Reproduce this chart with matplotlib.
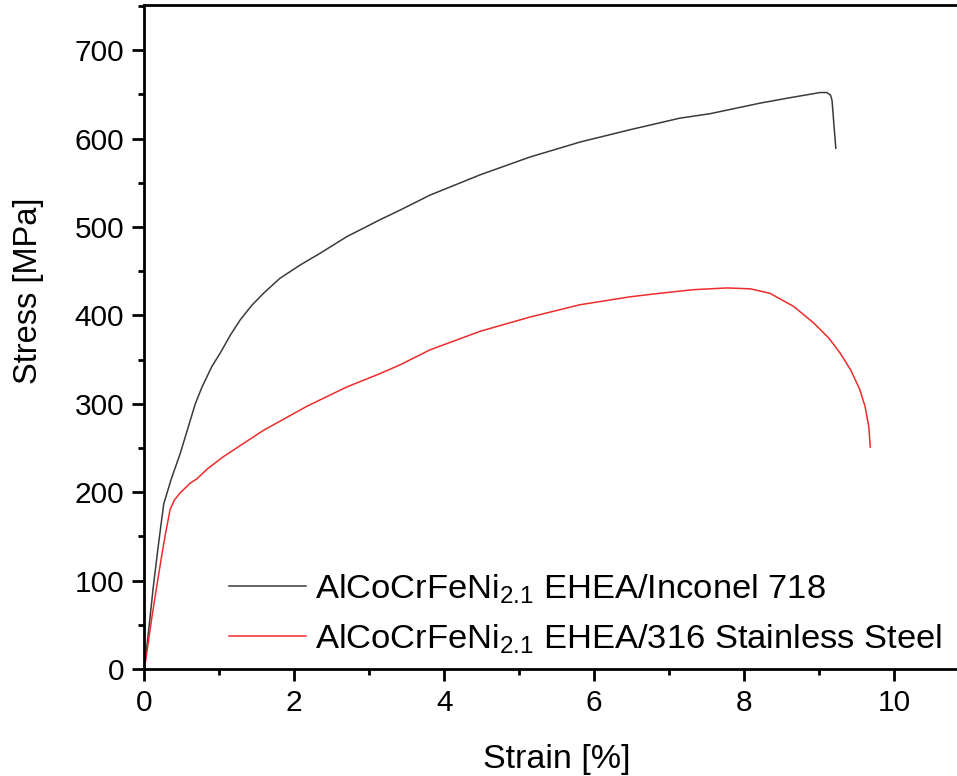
import matplotlib
matplotlib.use('Agg')
import matplotlib.pyplot as plt
from matplotlib.ticker import MultipleLocator

plt.rcParams['font.family'] = ['Liberation Sans', 'DejaVu Sans']
plt.rcParams['mathtext.fontset'] = 'custom'
plt.rcParams['mathtext.rm'] = 'Liberation Sans'
plt.rcParams['mathtext.it'] = 'Liberation Sans:italic'

# stress-strain curves
strain_inconel = [0, 0.06, 0.12, 0.18, 0.23, 0.26, 0.36, 0.48, 0.58, 0.68, 0.77,
                  0.9, 1.01, 1.15, 1.28, 1.43, 1.59, 1.81, 2.08, 2.34, 2.70, 3.14,
                  3.41, 3.81, 4.48, 5.14, 5.81, 6.48, 7.14, 7.54, 8.21, 8.6, 9.01,
                  9.10, 9.15, 9.17, 9.19, 9.22]
stress_inconel = [0, 45, 93, 135, 168, 187, 215, 244, 272, 300, 319,
                  342, 357, 378, 395, 411, 425, 442, 457, 470, 489, 508,
                  519, 536, 559, 579, 596, 610, 623, 628, 640, 646, 652,
                  652, 649, 643, 621, 589]

strain_ss316 = [0, 0.05, 0.10, 0.165, 0.22, 0.276, 0.343, 0.40, 0.476, 0.609,
                0.7, 0.85, 1.053, 1.32, 1.59, 2.165, 2.70, 3.14, 3.41, 3.81,
                4.48, 5.14, 5.81, 6.48, 6.88, 7.32, 7.77, 8.08, 8.34,
                8.66, 8.93, 9.13, 9.28, 9.42, 9.54, 9.61, 9.66, 9.68]
stress_ss316 = [0, 28, 58, 93, 122, 150, 180, 191, 199, 210,
                215, 227, 240, 255, 270, 297, 319, 334, 344, 361,
                382, 398, 412, 421, 425, 429, 431, 430, 425,
                410, 391, 374, 357, 338, 316, 297, 274, 251]

label_inconel = r'AlCoCrFeNi$_{\mathrm{2.1}}$ EHEA/Inconel 718'
label_ss316 = r'AlCoCrFeNi$_{\mathrm{2.1}}$ EHEA/316 Stainless Steel'

fig = plt.figure(figsize=(9.57, 7.76), dpi=100)
# axes runs past the right edge of the figure, as in the cropped original
ax = fig.add_axes([144.3 / 957, 107 / 776, 825 / 957, 664 / 776])

ax.plot(strain_inconel, stress_inconel, color='#3a3a3a', lw=1.1, label=label_inconel)
ax.plot(strain_ss316, stress_ss316, color='#ee2b2b', lw=1.1, label=label_ss316)

ax.set_xlim(0, 11)
ax.set_ylim(0, 751)
ax.xaxis.set_major_locator(MultipleLocator(2))
ax.xaxis.set_minor_locator(MultipleLocator(1))
ax.yaxis.set_major_locator(MultipleLocator(100))
ax.yaxis.set_minor_locator(MultipleLocator(50))

for side in ['left', 'bottom', 'top']:
    ax.spines[side].set_linewidth(2.0)
ax.spines['right'].set_visible(False)
ax.tick_params(which='major', direction='out', length=8.6, width=2.0,
               labelsize=21.5, pad=6)
ax.tick_params(which='minor', direction='out', length=4.3, width=2.0)
ax.tick_params(top=False, right=False, which='both')

ax.set_xlabel('Strain [%]', fontsize=24.5)
ax.set_ylabel('Stress [MPa]', fontsize=23.5)
ax.xaxis.set_label_coords(0.5, -0.1136)
ax.yaxis.set_label_coords(-0.1216, 0.569)

ax.legend(loc='lower left', bbox_to_anchor=(0.1027, 0.02), frameon=False,
          fontsize=24.8, handlelength=2.23, handletextpad=0.26,
          labelspacing=0.48, borderpad=0, borderaxespad=0)

fig.savefig('out.png', dpi=100)
